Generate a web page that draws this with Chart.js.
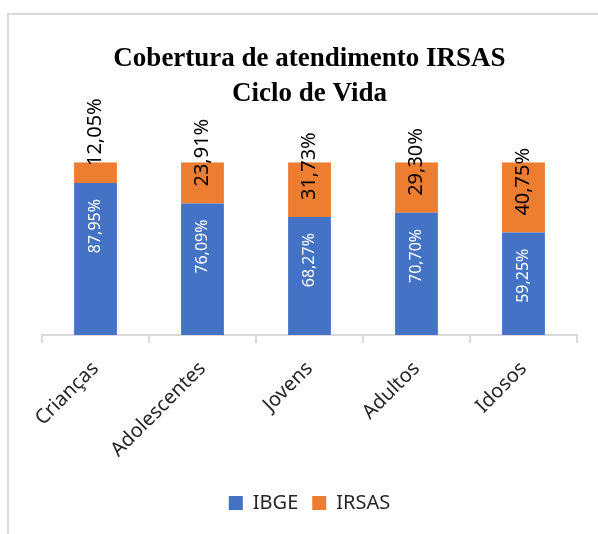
<!DOCTYPE html>
<html lang="pt">
<head>
    <meta charset="UTF-8">
    <title>Cobertura de atendimento IRSAS</title>
    <script src="https://cdn.jsdelivr.net/npm/chart.js"></script>
    <style>
        html, body { margin: 0; padding: 0; overflow: hidden; background: #fff; }
        /* frame of the chart object, cropped at right and bottom like the reference */
        #frame { position: absolute; left: 7px; top: 13px; width: 700px; height: 600px;
                 border-left: 2px solid #d9d9d9; border-top: 2px solid #d9d9d9; }
        #chart { position: absolute; left: 0; top: 0; }
    </style>
</head>
<body>
    <div id="frame"></div>
    <canvas id="chart" width="616" height="534"></canvas>

    <script>
        // Data
        const categories = ['Crianças', 'Adolescentes', 'Jovens', 'Adultos', 'Idosos'];
        const ibge = [87.95, 76.09, 68.27, 70.70, 59.25];
        const irsas = [12.05, 23.91, 31.73, 29.30, 40.75];

        const fmt = v => v.toFixed(2).replace('.', ',') + '%';

        // Vertical value labels, placed like the Excel ones
        const barLabels = {
            id: 'barLabels',
            afterDatasetsDraw(chart) {
                const ctx = chart.ctx;
                chart.data.datasets.forEach((ds, di) => {
                    const meta = chart.getDatasetMeta(di);
                    meta.data.forEach((bar, i) => {
                        ctx.save();
                        ctx.textBaseline = 'middle';
                        if (di === 0) {
                            ctx.translate(bar.x, bar.y + 16);
                            ctx.font = '16px "Noto Sans"';
                            ctx.fillStyle = '#ffffff';
                            ctx.textAlign = 'right';
                        } else {
                            ctx.translate(bar.x, bar.base - 17);
                            ctx.font = '20px "Noto Sans"';
                            ctx.fillStyle = '#000000';
                            ctx.textAlign = 'left';
                        }
                        ctx.rotate(-Math.PI / 2);
                        ctx.fillText(fmt(ds.data[i]), 0, 0);
                        ctx.restore();
                    });
                });
            }
        };

        const ctx = document.getElementById('chart').getContext('2d');
        const chart = new Chart(ctx, {
            type: 'bar',
            data: {
                labels: categories,
                datasets: [
                    { label: 'IBGE', data: ibge, backgroundColor: '#4472C4',
                      barPercentage: 0.4, categoryPercentage: 1.0 },
                    { label: 'IRSAS', data: irsas, backgroundColor: '#ED7D31',
                      barPercentage: 0.4, categoryPercentage: 1.0 }
                ]
            },
            options: {
                responsive: false,
                animation: false,
                layout: { padding: { left: 42, right: 39, top: 0, bottom: 11 } },
                plugins: {
                    title: {
                        display: true,
                        text: ['Cobertura de atendimento IRSAS', 'Ciclo de Vida'],
                        color: '#000',
                        font: { family: '"Liberation Serif", serif', size: 27, weight: 'bold', lineHeight: 1.3 },
                        padding: { top: 41, bottom: 51 }
                    },
                    legend: {
                        position: 'bottom',
                        labels: {
                            boxWidth: 14, boxHeight: 14, padding: 14,
                            color: '#262626',
                            font: { family: '"Noto Sans"', size: 20 }
                        }
                    },
                    tooltip: { enabled: false }
                },
                scales: {
                    x: {
                        stacked: true,
                        grid: { drawOnChartArea: false, tickLength: 8, color: '#d9d9d9', lineWidth: 2 },
                        border: { color: '#d9d9d9', width: 2 },
                        ticks: { minRotation: 45, maxRotation: 45, padding: 14, color: '#262626',
                                 font: { family: '"Noto Sans"', size: 20 } },
                        afterFit(scale) { scale.height = 144; }
                    },
                    y: { stacked: true, display: false, min: 0, max: 100 }
                }
            },
            plugins: [barLabels]
        });
    </script>
</body>
</html>
